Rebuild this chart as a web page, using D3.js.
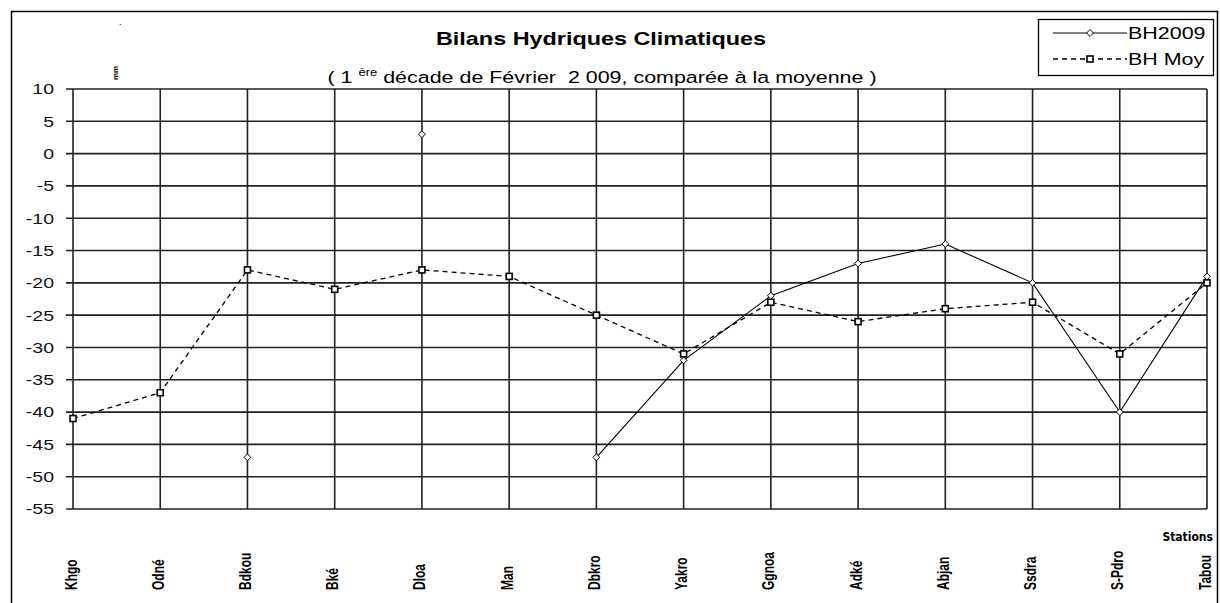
<!DOCTYPE html>
<html>
<head>
<meta charset="utf-8">
<script src="https://cdn.jsdelivr.net/npm/d3@7"></script>
<style>
  body { margin: 0; background: #fff; }
  svg { font-family: "Liberation Sans", Arial, sans-serif; }
</style>
</head>
<body>
<main></main>
<script>
// data
const stations = ["Khgo", "Odné", "Bdkou", "Bké", "Dloa", "Man", "Dbkro", "Yakro", "Ggnoa", "Adké", "Abjan", "Ssdra", "S-Pdro", "Tabou"];
const bh2009 = [null, null, -47, null, 3, null, -47, -32, -22, -17, -14, -20, -40, -19];
const bhMoy = [-41, -37, -18, -21, -18, -19, -25, -31, -23, -26, -24, -23, -31, -20];
const yTicks = [10, 5, 0, -5, -10, -15, -20, -25, -30, -35, -40, -45, -50, -55];

var width = 1220;
var height = 603;
var stretch = 1.3; // the reference text is stretched sideways

var svg = d3.select("main")
  .append("svg")
  .attr("width", width)
  .attr("height", height);

// text helper: places a text at (px,py), widened like the picture
function addText(parent, px, py, str, rot) {
  return parent.append("text")
    .attr("transform", "translate(" + px + "," + py + ") scale(" + stretch + ",1)" + (rot ? " rotate(" + rot + ")" : ""))
    .text(str);
}

// outer frame
svg.append("rect")
  .attr("x", 11.5).attr("y", 11.5)
  .attr("width", 1206).attr("height", 620)
  .style("fill", "none").style("stroke", "#000").style("stroke-width", 1.5);

var x = d3.scalePoint().domain(stations).range([73, 1207]);
var y = d3.scaleLinear().domain([-55, 10]).range([509, 89]);

// grid
svg.append("g").selectAll("line")
  .data(yTicks).enter().append("line")
  .attr("x1", 66).attr("x2", 1207)
  .attr("y1", d => y(d)).attr("y2", d => y(d))
  .style("stroke", "#222").style("stroke-width", 1.6);

svg.append("g").selectAll("line")
  .data(stations).enter().append("line")
  .attr("x1", d => x(d)).attr("x2", d => x(d))
  .attr("y1", 89).attr("y2", 509)
  .style("stroke", "#222").style("stroke-width", 1.6);

// y tick labels
var yLab = svg.append("g");
yTicks.forEach(t => {
  addText(yLab, 54, y(t), t)
    .attr("text-anchor", "end")
    .attr("dy", "0.36em")
    .style("font-size", "15px")
    .style("fill", "#111");
});

// x labels
var xLab = svg.append("g");
stations.forEach(s => {
  addText(xLab, x(s) + 3.5, 590, s, -90)
    .style("font-size", "12px")
    .style("font-weight", "bold");
});

svg.append("text")
  .attr("x", 1213).attr("y", 541)
  .attr("text-anchor", "end")
  .style("font-size", "12px")
  .style("font-weight", "bold")
  .style("font-family", "'DejaVu Sans Condensed', 'Liberation Sans', sans-serif")
  .text("Stations");

// unit label
svg.append("text")
  .attr("transform", "translate(118,80) rotate(-90)")
  .style("font-size", "8px")
  .style("font-weight", "bold")
  .text("mm");
svg.append("text")
  .attr("x", 119).attr("y", 25)
  .style("font-size", "9px")
  .text(".");

// titles
addText(svg, 601, 45, "Bilans Hydriques Climatiques")
  .attr("text-anchor", "middle")
  .style("font-size", "18px")
  .style("font-weight", "bold");

var sub = addText(svg, 602, 83, "")
  .attr("text-anchor", "middle")
  .style("font-size", "16.5px");
sub.append("tspan").text("( 1 ");
sub.append("tspan").attr("dy", -7).style("font-size", "10px").text("ère");
sub.append("tspan").attr("dy", 7).text(" décade de Février\u00a0 2 009, comparée à la moyenne )");

// series
var line = d3.line()
  .defined(d => d.v != null)
  .x(d => x(d.s))
  .y(d => y(d.v));

var dataBH = stations.map((s, i) => ({ s: s, v: bh2009[i] }));
var dataMoy = stations.map((s, i) => ({ s: s, v: bhMoy[i] }));

svg.append("path")
  .datum(dataMoy)
  .attr("d", line)
  .style("fill", "none").style("stroke", "#000").style("stroke-width", 1.3)
  .style("stroke-dasharray", "5,4");

svg.append("path")
  .datum(dataBH)
  .attr("d", line)
  .style("fill", "none").style("stroke", "#000").style("stroke-width", 1.1);

svg.append("g").selectAll("rect")
  .data(dataMoy).enter().append("rect")
  .attr("x", d => x(d.s) - 3).attr("y", d => y(d.v) - 3)
  .attr("width", 6).attr("height", 6)
  .style("fill", "#fff").style("stroke", "#000").style("stroke-width", 1.6);

svg.append("g").selectAll("path")
  .data(dataBH.filter(d => d.v != null)).enter().append("path")
  .attr("d", d3.symbol().type(d3.symbolDiamond2).size(30))
  .attr("transform", d => "translate(" + x(d.s) + "," + y(d.v) + ")")
  .style("fill", "#fff").style("stroke", "#000").style("stroke-width", 1);

// legend
var legend = svg.append("g").attr("id", "legend");
legend.append("rect")
  .attr("x", 1038.5).attr("y", 19.5)
  .attr("width", 175).attr("height", 56)
  .style("fill", "#fff").style("stroke", "#000").style("stroke-width", 1.3);

legend.append("line")
  .attr("x1", 1053).attr("x2", 1127).attr("y1", 33).attr("y2", 33)
  .style("stroke", "#000").style("stroke-width", 1.1);
legend.append("path")
  .attr("d", d3.symbol().type(d3.symbolDiamond2).size(30))
  .attr("transform", "translate(1090,33)")
  .style("fill", "#fff").style("stroke", "#000");
addText(legend, 1128, 39, "BH2009")
  .style("font-size", "16.5px");

legend.append("line")
  .attr("x1", 1053).attr("x2", 1127).attr("y1", 59).attr("y2", 59)
  .style("stroke", "#000").style("stroke-width", 1.3)
  .style("stroke-dasharray", "5,4");
legend.append("rect")
  .attr("x", 1087).attr("y", 56).attr("width", 6).attr("height", 6)
  .style("fill", "#fff").style("stroke", "#000").style("stroke-width", 1.6);
addText(legend, 1128, 65, "BH Moy")
  .style("font-size", "16.5px");
</script>
</body>
</html>
